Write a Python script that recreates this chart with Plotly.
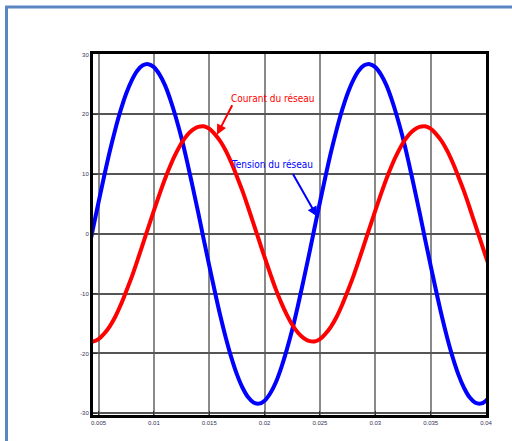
import plotly.graph_objects as go

# sample times (s)
time_s = [0.0040, 0.0045, 0.0050, 0.0055, 0.0060, 0.0065, 0.0070, 0.0075, 0.0080, 0.0085,
          0.0090, 0.0095, 0.0100, 0.0105, 0.0110, 0.0115, 0.0120, 0.0125, 0.0130, 0.0135,
          0.0140, 0.0145, 0.0150, 0.0155, 0.0160, 0.0165, 0.0170, 0.0175, 0.0180, 0.0185,
          0.0190, 0.0195, 0.0200, 0.0205, 0.0210, 0.0215, 0.0220, 0.0225, 0.0230, 0.0235,
          0.0240, 0.0245, 0.0250, 0.0255, 0.0260, 0.0265, 0.0270, 0.0275, 0.0280, 0.0285,
          0.0290, 0.0295, 0.0300, 0.0305, 0.0310, 0.0315, 0.0320, 0.0325, 0.0330, 0.0335,
          0.0340, 0.0345, 0.0350, 0.0355, 0.0360, 0.0365, 0.0370, 0.0375, 0.0380, 0.0385,
          0.0390, 0.0395, 0.0400, 0.0405]

# Tension du réseau (blue)
tension = [-3.6, 0.9, 5.3, 9.6, 13.7, 17.4, 20.7, 23.5, 25.7, 27.3,
           28.2, 28.4, 27.9, 26.7, 24.9, 22.4, 19.4, 16.0, 12.1, 7.9,
           3.6, -0.9, -5.3, -9.6, -13.7, -17.4, -20.7, -23.5, -25.7, -27.3,
           -28.2, -28.4, -27.9, -26.7, -24.9, -22.4, -19.4, -16.0, -12.1, -7.9,
           -3.6, 0.9, 5.3, 9.6, 13.7, 17.4, 20.7, 23.5, 25.7, 27.3,
           28.2, 28.4, 27.9, 26.7, 24.9, 22.4, 19.4, 16.0, 12.1, 7.9,
           3.6, -0.9, -5.3, -9.6, -13.7, -17.4, -20.7, -23.5, -25.7, -27.3,
           -28.2, -28.4, -27.9, -26.7]

# Courant du réseau (red)
courant = [-17.9, -18.0, -17.6, -16.7, -15.5, -13.9, -11.9, -9.6, -7.2, -4.5,
           -1.7, 1.1, 3.9, 6.6, 9.2, 11.5, 13.5, 15.2, 16.5, 17.4,
           17.9, 18.0, 17.6, 16.7, 15.5, 13.9, 11.9, 9.6, 7.2, 4.5,
           1.7, -1.1, -3.9, -6.6, -9.2, -11.5, -13.5, -15.2, -16.5, -17.4,
           -17.9, -18.0, -17.6, -16.7, -15.5, -13.9, -11.9, -9.6, -7.2, -4.5,
           -1.7, 1.1, 3.9, 6.6, 9.2, 11.5, 13.5, 15.2, 16.5, 17.4,
           17.9, 18.0, 17.6, 16.7, 15.5, 13.9, 11.9, 9.6, 7.2, 4.5,
           1.7, -1.1, -3.9, -6.6]

x_tick_vals = [0.005, 0.01, 0.015, 0.02, 0.025, 0.03, 0.035, 0.04]
x_tick_text = ["0.005", "0.01", "0.015", "0.02", "0.025", "0.03", "0.035", "0.04"]
y_tick_vals = [-30, -20, -10, 0, 10, 20, 30]
y_tick_text = ["-30", "-20", "-10", "0", "10", "20", "30"]

fig = go.Figure()
fig.add_trace(go.Scatter(x=time_s, y=tension, mode="lines",
                         line=dict(color="#0000ff", width=4, shape="spline"),
                         showlegend=False))
fig.add_trace(go.Scatter(x=time_s, y=courant, mode="lines",
                         line=dict(color="#ff0000", width=4, shape="spline"),
                         showlegend=False))

axis_common = dict(showline=True, linecolor="black", linewidth=3, mirror=True,
                   ticks="inside", ticklen=4, tickcolor="#333333",
                   zeroline=False, tickfont=dict(size=6, color="#333355", family="Liberation Sans"))

fig.update_xaxes(range=[0.0045, 0.04], tickvals=x_tick_vals, ticktext=x_tick_text,
                 showgrid=True, gridcolor="#8a8a8a", gridwidth=1.5, **axis_common)
fig.update_yaxes(range=[-30.3, 30.1], tickvals=y_tick_vals, ticktext=y_tick_text,
                 showgrid=True, gridcolor="#555555", gridwidth=1.5, **axis_common)

label_font = "DejaVu Sans Condensed, Liberation Sans Narrow, sans-serif"

# red arrow + label
fig.add_annotation(x=0.0157, y=16.6, ax=16, ay=-31, axref="pixel", ayref="pixel",
                   xref="x", yref="y", text="", showarrow=True,
                   arrowcolor="#ff0000", arrowwidth=2, arrowhead=2, arrowsize=1)
fig.add_annotation(xref="paper", yref="paper", x=(273 - 93) / 393, y=(415 - 91) / 361,
                   text="Courant du réseau", showarrow=False,
                   font=dict(family=label_font, size=10, color="#ff0000"))

# blue arrow + label
fig.add_annotation(x=0.02474, y=2.9, ax=-25, ay=-44, axref="pixel", ayref="pixel",
                   xref="x", yref="y", text="", showarrow=True,
                   arrowcolor="#0000ff", arrowwidth=2, arrowhead=2, arrowsize=1)
fig.add_annotation(xref="paper", yref="paper", x=(272 - 93) / 393, y=(415 - 157) / 361,
                   text="Tension du réseau", showarrow=False,
                   font=dict(family=label_font, size=10, color="#0000ff"))

# outer blue frame
fig.add_shape(type="rect", xref="paper", yref="paper",
              x0=(6.5 - 93) / 393, x1=(530 - 93) / 393,
              y0=(415 - 460) / 361, y1=(415 - 7) / 361,
              line=dict(color="#5b86c2", width=3), layer="above")

fig.update_layout(width=512, height=441, margin=dict(l=93, r=26, t=54, b=26),
                  paper_bgcolor="white", plot_bgcolor="white")

fig.write_html("out.html", config={"displayModeBar": False},
               post_script="document.body.style.margin='0';")
